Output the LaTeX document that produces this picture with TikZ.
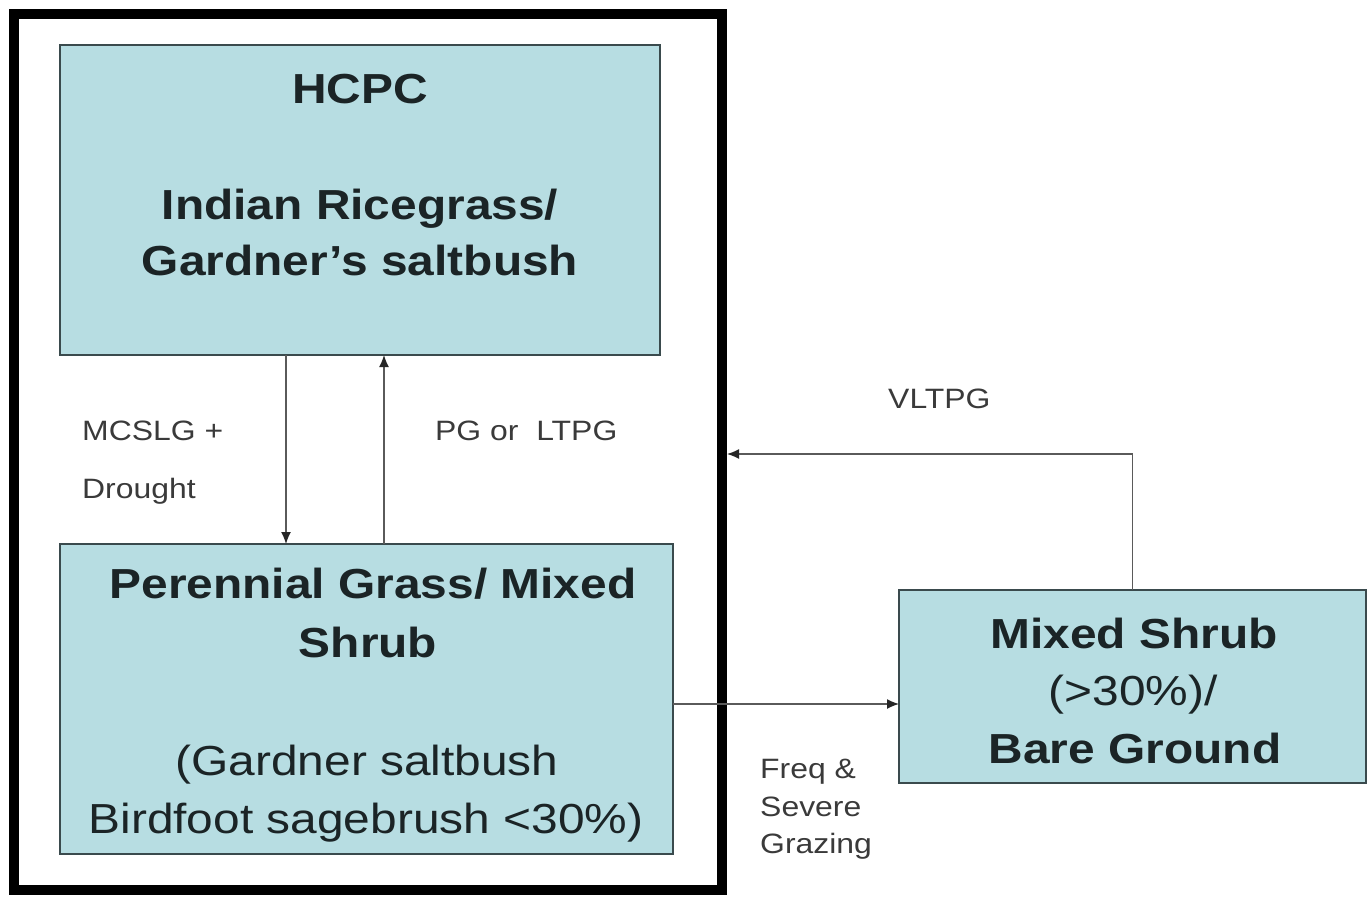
\documentclass[tikz,border=0pt]{standalone}
\usepackage{fontspec}
\setmainfont{Liberation Sans}[FakeStretch=1.14]
\usetikzlibrary{arrows.meta}
\definecolor{boxfill}{HTML}{B7DDE2}
\definecolor{boxline}{HTML}{3A4A4D}
\definecolor{txt}{HTML}{1B2426}
\definecolor{lbl}{HTML}{3A3A3A}
\definecolor{conn}{HTML}{5A5A5A}
\begin{document}
\begin{tikzpicture}[x=1pt,y=-1pt,
  statebox/.style={draw=boxline,line width=2.5pt,fill=boxfill,inner sep=0pt,outer sep=0pt},
  bigb/.style={anchor=base,inner sep=0pt,text=txt,font=\fontsize{42}{48}\selectfont\bfseries},
  bigr/.style={anchor=base,inner sep=0pt,text=txt,font=\fontsize{42}{48}\selectfont},
  lab/.style={anchor=base west,inner sep=0pt,text=lbl,font=\fontsize{28}{32}\selectfont},
  arr/.style={draw=conn,line width=1.4pt,-{Latex[length=12pt,width=10pt,color=black!85]}}]
\useasboundingbox (0,0) rectangle (1372,899);
% outer frame
\node[draw=black,line width=10pt,minimum width=708pt,minimum height=876pt,anchor=north west,inner sep=0pt,outer sep=5pt] (outer) at (9,9) {};
% state boxes
\node[statebox,minimum width=600pt,minimum height=310pt,anchor=north west] (hcpc) at (60,45) {};
\node[statebox,minimum width=613pt,minimum height=310pt,anchor=north west] (pg) at (60,544) {};
\node[statebox,minimum width=467pt,minimum height=193pt,anchor=north west] (ms) at (899,590) {};
% texts
\node[bigb] (t1) at (360,103) {HCPC};
\node[bigb] (t2) at (360,219) {Indian Ricegrass/};
\node[bigb] (t3) at (360,275) {Gardner’s saltbush};
\node[bigb] (t4) at (373,598) {Perennial Grass/ Mixed};
\node[bigb] (t5) at (368,657) {Shrub};
\node[bigr] (t6) at (367,775) {(Gardner saltbush};
\node[bigr] (t7) at (366,833) {Birdfoot sagebrush <30\%)};
\node[bigb] (t8) at (1134,648) {Mixed Shrub};
\node[bigr] (t9) at (1133,705) {(>30\%)/};
\node[bigb] (t10) at (1135,763) {Bare Ground};
% labels
\node[lab] (l1) at (82,440) {MCSLG +};
\node[lab] (l2) at (82,498) {Drought};
\node[lab] (l3) at (435,440) {PG or\ \ LTPG};
\node[lab] (l4) at (888,408) {VLTPG};
\node[lab] (l5) at (760,778) {Freq \&};
\node[lab] (l6) at (760,816) {Severe};
\node[lab] (l7) at (760,853) {Grazing};
% connectors
\coordinate (cd) at (286,0);
\coordinate (cu) at (384,0);
\coordinate (ch) at (0,704);
\coordinate (cv) at (0,454);
\draw[arr] (hcpc.south -| cd) -- (pg.north -| cd);
\draw[arr] (pg.north -| cu) -- (hcpc.south -| cu);
\draw[arr] (pg.east |- ch) -- (ms.west |- ch);
\draw[arr] (ms.north) -- (ms.north |- cv) -- (outer.east |- cv);
\end{tikzpicture}
\end{document}
